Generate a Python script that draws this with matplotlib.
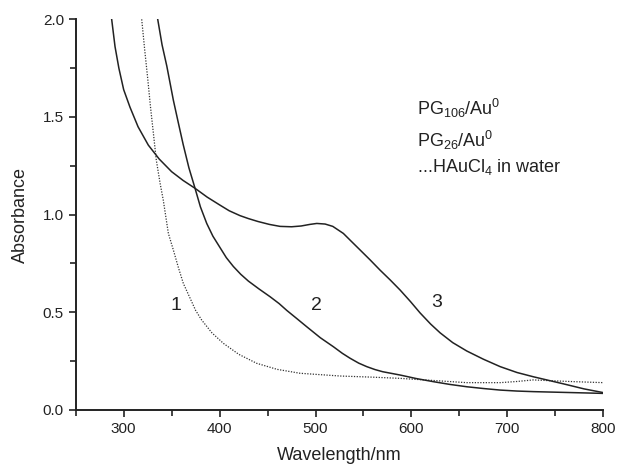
import matplotlib.pyplot as plt
from matplotlib.ticker import MultipleLocator

plt.rcParams['font.family'] = ['Liberation Sans', 'DejaVu Sans']
plt.rcParams['mathtext.fontset'] = 'custom'
plt.rcParams['mathtext.rm'] = 'Liberation Sans'
plt.rcParams['mathtext.it'] = 'Liberation Sans'

# curve 1: HAuCl4 in water (dotted)
wl_1 = [318.8, 322, 325, 328, 331, 334, 338, 341.3, 346.6, 351.8, 357, 362.2,
        369, 375, 381.4, 392, 404, 420, 438.7, 460, 483.9, 525.6, 560, 588,
        620, 657.7, 692.5, 710, 727, 745, 770, 800]
abs_1 = [2.0, 1.84, 1.7, 1.55, 1.416, 1.28, 1.16, 1.074, 0.904, 0.819, 0.73,
         0.648, 0.575, 0.51, 0.46, 0.395, 0.341, 0.285, 0.239, 0.208, 0.188,
         0.174, 0.168, 0.162, 0.152, 0.140, 0.140, 0.146, 0.154, 0.150,
         0.145, 0.140]

# curve 2: PG26/Au0
wl_2 = [335.5, 340, 345, 351.8, 357, 362, 368, 374.4, 380, 386.6, 393, 400,
        407, 414.3, 422, 430, 441, 452.6, 462, 470, 480, 490.9, 505, 518.6,
        528, 536, 545, 553.4, 562, 570, 588.2, 605, 622.9, 640, 657.7, 675,
        692.5, 710, 727.2, 760, 800]
abs_2 = [2.0, 1.87, 1.76, 1.586, 1.47, 1.36, 1.24, 1.135, 1.04, 0.955, 0.89,
         0.835, 0.78, 0.735, 0.695, 0.66, 0.62, 0.58, 0.545, 0.51, 0.47, 0.426,
         0.37, 0.324, 0.29, 0.265, 0.24, 0.222, 0.207, 0.196, 0.179, 0.161,
         0.145, 0.131, 0.119, 0.110, 0.102, 0.097, 0.094, 0.090, 0.085]

# curve 3: PG106/Au0
wl_3 = [287.5, 291, 295, 300, 306.6, 315, 325.7, 337, 350, 362, 374.4, 387,
        400, 410, 421.3, 430, 440, 452, 463, 475, 485, 494, 501.3, 510, 518,
        529, 537, 546.5, 557, 567.3, 578, 588.2, 599, 609, 620, 629.9, 643,
        657.7, 675, 692.5, 710, 727.2, 741, 760, 780, 800]
abs_3 = [2.0, 1.86, 1.75, 1.64, 1.55, 1.45, 1.356, 1.285, 1.22, 1.175, 1.135,
         1.09, 1.05, 1.02, 0.995, 0.98, 0.965, 0.95, 0.94, 0.938, 0.942, 0.95,
         0.955, 0.952, 0.94, 0.904, 0.865, 0.819, 0.768, 0.716, 0.665, 0.614,
         0.555, 0.497, 0.44, 0.395, 0.345, 0.302, 0.260, 0.222, 0.192, 0.170,
         0.154, 0.132, 0.108, 0.089]

legend_lines = ['PG$_{106}$/Au$^{0}$', 'PG$_{26}$/Au$^{0}$',
                '...HAuCl$_{4}$ in water']

fig = plt.figure(figsize=(6.18, 4.69), dpi=100)
ax = fig.add_axes([0.1225, 0.1258, 0.8537, 0.833])

ax.plot(wl_1, abs_1, color='#333333', lw=0.9, ls=(0, (1, 1.2)))
ax.plot(wl_2, abs_2, color='#222222', lw=1.1)
ax.plot(wl_3, abs_3, color='#222222', lw=1.1)

ax.text(355, 0.537, '1', fontsize=14, ha='center', va='center', color='#222222')
ax.text(501.3, 0.537, '2', fontsize=14, ha='center', va='center', color='#222222')
ax.text(626, 0.548, '3', fontsize=14, ha='center', va='center', color='#222222')

for t, yy in zip(legend_lines, [1.545, 1.382, 1.245]):
    ax.text(605.6, yy, t, fontsize=13, ha='left', va='center', color='#222222')

ax.set_xlim(250, 800)
ax.set_ylim(0, 2.0)
ax.xaxis.set_minor_locator(MultipleLocator(50))
ax.yaxis.set_major_locator(MultipleLocator(0.5))
ax.yaxis.set_minor_locator(MultipleLocator(0.25))
ax.set_xticks([300, 400, 500, 600, 700, 800])
ax.tick_params(which='both', direction='out', width=1.2, labelsize=11,
               colors='#222222')
ax.tick_params(which='major', length=5)
ax.tick_params(which='minor', length=4)

for s in ['top', 'right']:
    ax.spines[s].set_visible(False)
for s in ['left', 'bottom']:
    ax.spines[s].set_linewidth(1.4)
    ax.spines[s].set_color('#222222')

ax.set_xlabel('Wavelength/nm', fontsize=13, color='#222222', labelpad=8)
ax.set_ylabel('Absorbance', fontsize=13, color='#222222', labelpad=10)

fig.savefig('out.png', dpi=100)
